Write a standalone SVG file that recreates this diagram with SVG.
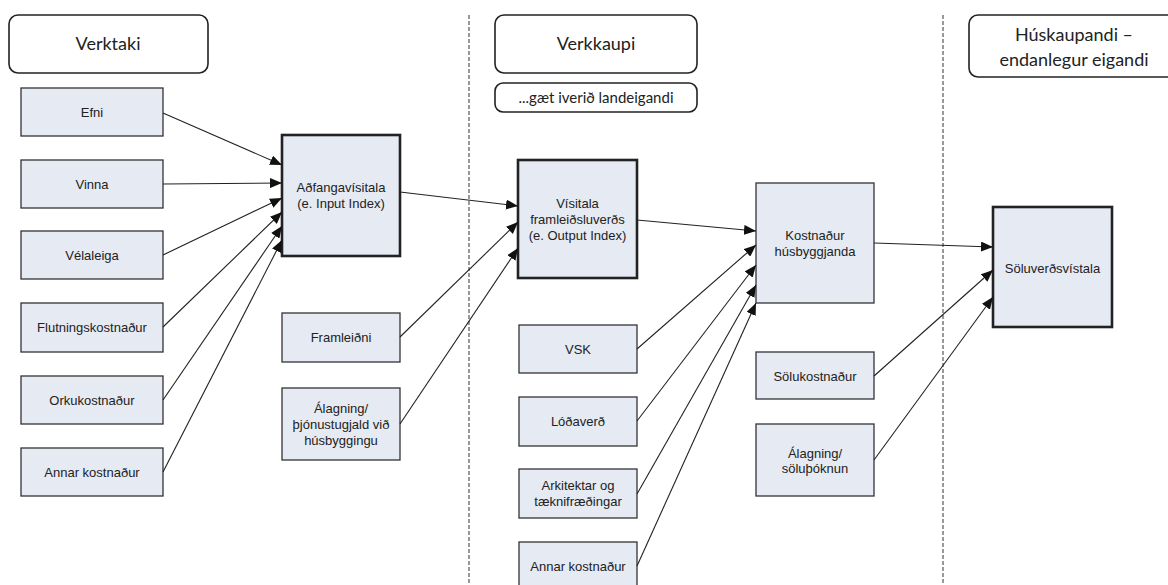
<svg xmlns="http://www.w3.org/2000/svg" width="1168" height="585" viewBox="0 0 1168 585">
<defs>
<style>
.hdr{fill:#fff;stroke:#222;stroke-width:1.6}
.ht{font-family:Lato,"Open Sans",sans-serif;font-size:18px;fill:#222;text-anchor:middle}
.box{fill:#e6eaf3;stroke:#333;stroke-width:1.3}
.kbox{fill:#e6eaf3;stroke:#222;stroke-width:2.6}
.bt{font-family:"Liberation Sans",Arial,sans-serif;font-size:13px;fill:#222;text-anchor:middle}
.div{stroke:#555;stroke-width:1.2;stroke-dasharray:4 2;fill:none}
.con line{stroke:#222;stroke-width:1.1;marker-end:url(#ah)}
</style>
<marker id="ah" markerUnits="userSpaceOnUse" markerWidth="12" markerHeight="10" viewBox="0 0 12 10" refX="12" refY="5" orient="auto">
<path d="M0,0 L12,5 L0,10 z" fill="#111"/>
</marker>
</defs>
<rect width="1168" height="585" fill="#fff"/>
<g id="dividers">
<line class="div" x1="469" y1="15" x2="469" y2="585"/>
<line class="div" x1="943" y1="15" x2="943" y2="585"/>
</g>
<g id="hdr-verktaki"><rect class="hdr" x="9" y="15" width="199" height="58" rx="9"/><text class="ht" x="108" y="50">Verktaki</text></g>
<g id="hdr-verkkaupi"><rect class="hdr" x="495" y="15" width="202" height="58" rx="9"/><text class="ht" x="596" y="50">Verkkaupi</text></g>
<g id="hdr-landeigandi"><rect class="hdr" x="495" y="83" width="202" height="29" rx="8"/><text class="ht" x="596" y="103" style="font-size:15px">...gæt iverið landeigandi</text></g>
<g id="hdr-huskaupandi"><rect class="hdr" x="969" y="15" width="212" height="62" rx="9"/><text class="ht" x="1074" y="41">Húskaupandi –</text><text class="ht" x="1074" y="66">endanlegur eigandi</text></g>

<g id="n-efni"><rect class="box" x="21" y="88" width="142" height="48"/><text class="bt" x="92" y="116.5">Efni</text></g>
<g id="n-vinna"><rect class="box" x="21" y="160" width="142" height="48"/><text class="bt" x="92" y="188.5">Vinna</text></g>
<g id="n-velaleiga"><rect class="box" x="21" y="231" width="142" height="48"/><text class="bt" x="92" y="259.5">Vélaleiga</text></g>
<g id="n-flutnings"><rect class="box" x="21" y="303" width="142" height="49"/><text class="bt" x="92" y="331.5">Flutningskostnaður</text></g>
<g id="n-orku"><rect class="box" x="21" y="376" width="142" height="48"/><text class="bt" x="92" y="404.5">Orkukostnaður</text></g>
<g id="n-annar1"><rect class="box" x="21" y="448" width="142" height="48"/><text class="bt" x="92" y="476.5">Annar kostnaður</text></g>

<g id="n-adfanga"><rect class="kbox" x="282" y="135" width="118" height="121"/><text class="bt" x="341" y="191.5">Aðfangavísitala</text><text class="bt" x="341" y="207.5">(e. Input Index)</text></g>
<g id="n-framleidni"><rect class="box" x="282" y="313" width="118" height="49"/><text class="bt" x="341" y="341.5">Framleiðni</text></g>
<g id="n-alagning1"><rect class="box" x="282" y="388" width="118" height="72"/><text class="bt" x="341" y="412.5">Álagning/</text><text class="bt" x="341" y="428.5">þjónustugjald við</text><text class="bt" x="341" y="444.5">húsbyggingu</text></g>

<g id="n-visitala"><rect class="kbox" x="518" y="160" width="119" height="118"/><text class="bt" x="577.5" y="207.5">Vísitala</text><text class="bt" x="577.5" y="224">framleiðsluverðs</text><text class="bt" x="577.5" y="239.5">(e. Output Index)</text></g>
<g id="n-vsk"><rect class="box" x="519" y="325" width="118" height="48"/><text class="bt" x="578" y="353.5">VSK</text></g>
<g id="n-lodaverd"><rect class="box" x="519" y="397" width="118" height="49"/><text class="bt" x="578" y="425.5">Lóðaverð</text></g>
<g id="n-arkitektar"><rect class="box" x="519" y="469" width="118" height="49"/><text class="bt" x="578" y="489.5">Arkitektar og</text><text class="bt" x="578" y="506">tæknifræðingar</text></g>
<g id="n-annar2"><rect class="box" x="519" y="542" width="118" height="48"/><text class="bt" x="578" y="570.5">Annar kostnaður</text></g>

<g id="n-kostnadur"><rect class="box" x="756" y="183" width="118" height="120"/><text class="bt" x="815" y="239.5">Kostnaður</text><text class="bt" x="815" y="256">húsbyggjanda</text></g>
<g id="n-solukostnadur"><rect class="box" x="756" y="352" width="118" height="47"/><text class="bt" x="815" y="381">Sölukostnaður</text></g>
<g id="n-alagning2"><rect class="box" x="756" y="424" width="118" height="72"/><text class="bt" x="815" y="457.5">Álagning/</text><text class="bt" x="815" y="473">söluþóknun</text></g>

<g id="n-soluverd"><rect class="kbox" x="993" y="207" width="119" height="120"/><text class="bt" x="1052.5" y="272.5">Söluverðsvístala</text></g>

<g id="connectors" class="con">
<line x1="163" y1="113" x2="282" y2="165"/>
<line x1="163" y1="184" x2="282" y2="183"/>
<line x1="163" y1="255" x2="282" y2="198"/>
<line x1="163" y1="327" x2="282" y2="212"/>
<line x1="163" y1="400" x2="282" y2="226"/>
<line x1="163" y1="472" x2="282" y2="240"/>
<line x1="400" y1="192" x2="518" y2="206"/>
<line x1="400" y1="337" x2="518" y2="222"/>
<line x1="400" y1="424" x2="518" y2="248"/>
<line x1="637" y1="220" x2="756" y2="231"/>
<line x1="637" y1="349" x2="756" y2="245"/>
<line x1="637" y1="421" x2="756" y2="265"/>
<line x1="637" y1="494" x2="756" y2="285"/>
<line x1="637" y1="566" x2="756" y2="303"/>
<line x1="874" y1="243" x2="993" y2="247"/>
<line x1="874" y1="376" x2="993" y2="270"/>
<line x1="874" y1="460" x2="993" y2="297"/>
</g>
</svg>
